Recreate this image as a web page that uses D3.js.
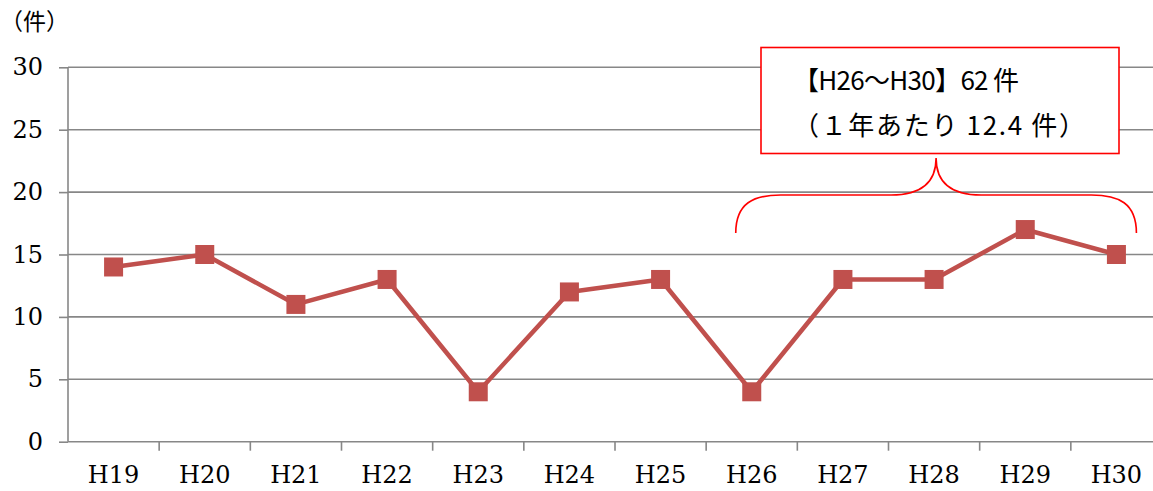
<!DOCTYPE html>
<html>
<head>
<meta charset="utf-8">
<script src="https://cdn.jsdelivr.net/npm/d3@7"></script>
<style>
  html, body { margin: 0; padding: 0; background: #fff; }
  svg { display: block; }
</style>
</head>
<body>
<svg id="chart" width="1153" height="491"></svg>
<script>
// Yearly counts, H19 through H30
const years = ["H19", "H20", "H21", "H22", "H23", "H24", "H25", "H26", "H27", "H28", "H29", "H30"];
const counts = [14, 15, 11, 13, 4, 12, 13, 4, 13, 13, 17, 15];
const yTicks = [0, 5, 10, 15, 20, 25, 30];
const unitLabel = "（件）";
const noteLines = ["【H26～H30】62 件", "（１年あたり 12.4 件）"];
const noteRange = ["H26", "H30"];

(function draw() {
  const svg = d3.select("#chart");
  const plotLeft = 68, plotRight = 1162, plotTop = 67.3, plotBottom = 441.7;

  const x = d3.scaleBand().domain(years).range([plotLeft, plotRight]).padding(0);
  const y = d3.scaleLinear().domain([0, 30]).range([plotBottom, plotTop]);

  const grey = "#878787";
  const serif = "'DejaVu Serif', 'Liberation Serif', serif";
  const cjk = "'Noto Sans CJK JP', sans-serif";

  // horizontal gridlines
  svg.append("g")
    .selectAll("line")
    .data(yTicks.filter(d => d > 0))
    .join("line")
    .attr("x1", plotLeft).attr("x2", 1153)
    .attr("y1", d => y(d)).attr("y2", d => y(d))
    .attr("stroke", grey).attr("stroke-width", 1.6);

  // y axis
  const yAxis = svg.append("g")
    .attr("transform", `translate(${plotLeft},0)`)
    .call(d3.axisLeft(y).tickValues(yTicks).tickSize(9).tickPadding(16));
  yAxis.select(".domain").attr("stroke", grey).attr("stroke-width", 1.6)
    .attr("d", `M0,${plotTop}V${plotBottom}`);
  yAxis.selectAll(".tick line").attr("stroke", grey).attr("stroke-width", 1.6);
  yAxis.selectAll(".tick text")
    .attr("font-family", serif).attr("font-size", 24).attr("fill", "#000");

  // x axis: ticks at band boundaries
  const xAxis = svg.append("g").attr("transform", `translate(0,${plotBottom})`);
  xAxis.append("line")
    .attr("x1", plotLeft).attr("x2", 1153).attr("y1", 0).attr("y2", 0)
    .attr("stroke", grey).attr("stroke-width", 1.6);
  xAxis.selectAll("line.tk")
    .data(years)
    .join("line").attr("class", "tk")
    .attr("x1", d => x(d) + x.bandwidth()).attr("x2", d => x(d) + x.bandwidth())
    .attr("y1", 0).attr("y2", 9)
    .attr("stroke", grey).attr("stroke-width", 1.6);
  xAxis.selectAll("text")
    .data(years)
    .join("text")
    .attr("x", d => x(d) + x.bandwidth() / 2)
    .attr("y", 41)
    .attr("text-anchor", "middle")
    .attr("font-family", serif).attr("font-size", 24)
    .text(d => d);

  // unit label
  svg.append("text")
    .attr("x", 0).attr("y", 30)
    .attr("font-family", cjk).attr("font-size", 23)
    .text(unitLabel);

  // data line and square markers
  const pts = years.map((yr, i) => ({ yr, v: counts[i] }));
  const cx = d => x(d.yr) + x.bandwidth() / 2;
  svg.append("path")
    .datum(pts)
    .attr("fill", "none")
    .attr("stroke", "#c0504d")
    .attr("stroke-width", 4.5)
    .attr("stroke-linejoin", "round")
    .attr("d", d3.line().x(cx).y(d => y(d.v)));
  const ms = 19;
  svg.append("g")
    .selectAll("rect")
    .data(pts)
    .join("rect")
    .attr("x", d => cx(d) - ms / 2)
    .attr("y", d => y(d.v) - ms / 2)
    .attr("width", ms).attr("height", ms)
    .attr("fill", "#c0504d");

  // curly brace over the H26–H30 span
  const bx0 = x(noteRange[0]) + x.bandwidth() / 2 - 16;
  const bx1 = x(noteRange[1]) + x.bandwidth() / 2 + 20;
  const bm = (bx0 + bx1) / 2;
  const bEnd = 233, bFlat = 195, bTip = 158;
  svg.append("path")
    .attr("fill", "none").attr("stroke", "#ff0000").attr("stroke-width", 1.6)
    .attr("d", `M${bx0},${bEnd}
      C${bx0},${bFlat + 8} ${bx0 + 18},${bFlat} ${bx0 + 45},${bFlat}
      L${bm - 45},${bFlat}
      C${bm - 18},${bFlat} ${bm},${bFlat - 10} ${bm},${bTip}
      C${bm},${bFlat - 10} ${bm + 18},${bFlat} ${bm + 45},${bFlat}
      L${bx1 - 45},${bFlat}
      C${bx1 - 18},${bFlat} ${bx1},${bFlat + 8} ${bx1},${bEnd}`);

  // annotation box
  svg.append("rect")
    .attr("x", 761).attr("y", 47.5)
    .attr("width", 358).attr("height", 106)
    .attr("fill", "#fff").attr("stroke", "#ff0000").attr("stroke-width", 1.6);
  const noteWidths = [226, 292];
  svg.append("g")
    .selectAll("text")
    .data(noteLines)
    .join("text")
    .attr("x", 793)
    .attr("y", (d, i) => 90 + i * 45)
    .attr("font-family", cjk)
    .attr("font-size", 26)
    .attr("textLength", (d, i) => noteWidths[i])
    .attr("lengthAdjust", "spacing")
    .text(d => d);
})();
</script>
</body>
</html>
